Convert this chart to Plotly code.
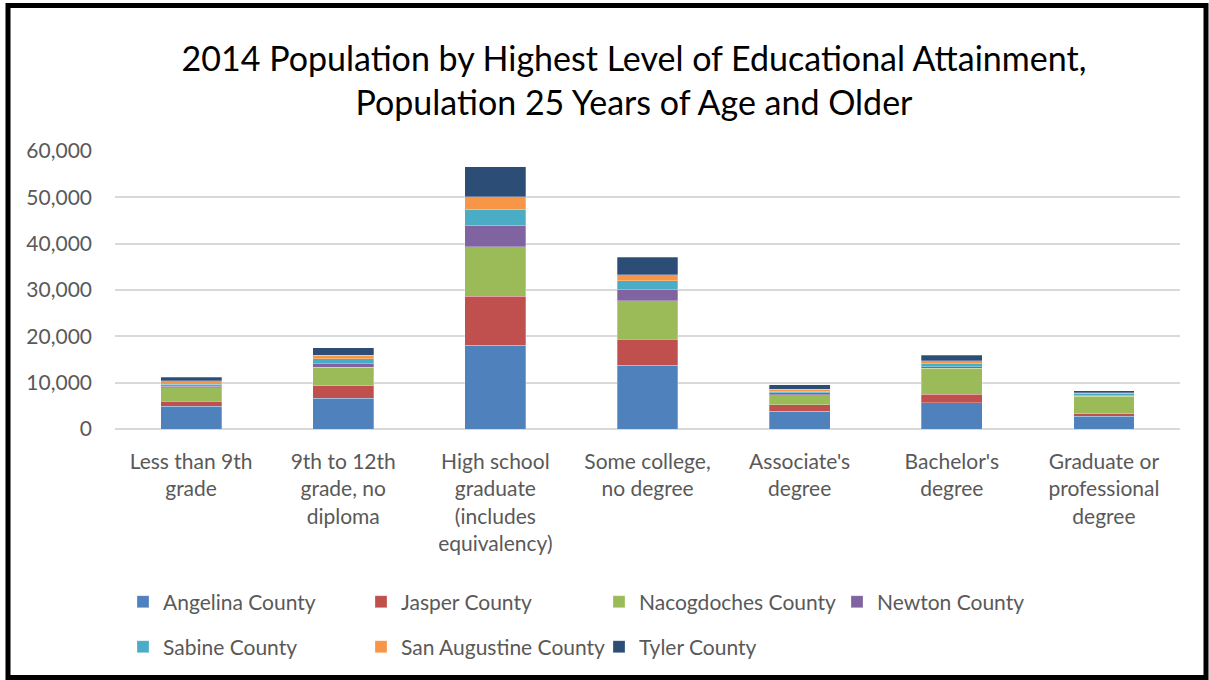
import plotly.graph_objects as go

# Education attainment categories (x axis)
categories = [
    "Less than 9th<br>grade",
    "9th to 12th<br>grade, no<br>diploma",
    "High school<br>graduate<br>(includes<br>equivalency)",
    "Some college,<br>no degree",
    "Associate's<br>degree",
    "Bachelor's<br>degree",
    "Graduate or<br>professional<br>degree",
]

# Population 25+ by county, one list per county
angelina = [4960, 6630, 18060, 13760, 3820, 5680, 2740]
jasper = [1080, 2720, 10580, 5610, 1430, 1810, 560]
nacogdoches = [2860, 3970, 10730, 8340, 2090, 5620, 3760]
newton = [380, 780, 4600, 2380, 500, 350, 220]
sabine = [420, 1010, 3460, 1940, 300, 640, 280]
san_augustine = [730, 790, 2740, 1230, 430, 590, 220]
tyler = [790, 1650, 6480, 3820, 1000, 1230, 490]

y_ticks = [0, 10000, 20000, 30000, 40000, 50000, 60000]

series = [
    ("Angelina County", angelina, "#4F81BD", "legend"),
    ("Jasper County", jasper, "#C0504D", "legend"),
    ("Nacogdoches County", nacogdoches, "#9BBB59", "legend"),
    ("Newton County", newton, "#8064A2", "legend"),
    ("Sabine County", sabine, "#4BACC6", "legend2"),
    ("San Augustine County", san_augustine, "#F79646", "legend2"),
    ("Tyler County", tyler, "#2C4D75", "legend2"),
]

W, H = 1209, 680
ML, MR, MT, MB = 115, 29, 151, 251
plot_w = W - ML - MR
plot_h = H - MT - MB

fig = go.Figure()
for name, vals, color, leg in series:
    fig.add_trace(go.Bar(
        x=categories, y=vals, name=name,
        marker=dict(color=color, line=dict(color="rgba(255,255,255,0.35)", width=0.8)),
        legend=leg,
    ))

FONT = "Lato, 'Open Sans', sans-serif"
GRAY = "#595959"

def px_to_paper_x(px):
    return (px - ML) / plot_w

def px_to_paper_y(py):
    return (H - MB - py) / plot_h

legend_common = dict(
    orientation="h",
    font=dict(family=FONT, size=21, color=GRAY),
    entrywidth=193,
    entrywidthmode="pixels",
    xanchor="left",
    yanchor="middle",
    bgcolor="rgba(0,0,0,0)",
    traceorder="normal",
)

fig.update_layout(
    width=W, height=H,
    margin=dict(l=ML, r=MR, t=MT, b=MB),
    paper_bgcolor="white",
    plot_bgcolor="white",
    barmode="stack",
    bargap=0.6,
    title=dict(
        text="2014 Population by Highest Level of Educational Attainment,<br>Population 25 Years of Age and Older",
        font=dict(family=FONT, size=34, color="#000000"),
        x=634 / W, xanchor="center", xref="container",
        y=1 - 71 / H, yanchor="middle", yref="container",
    ),
    font=dict(family=FONT, size=21, color=GRAY),
    xaxis=dict(
        showgrid=False, showline=False, ticks="",
        tickfont=dict(family=FONT, size=21, color=GRAY),
        tickangle=0,
        ticklabelstandoff=18,
    ),
    yaxis=dict(
        range=[0, 60000], tickvals=y_ticks, tickformat=",",
        showgrid=True, gridcolor="#D9D9D9", gridwidth=1.5,
        zeroline=True, zerolinecolor="#D9D9D9", zerolinewidth=1.5,
        showline=False, ticks="",
        ticklabelstandoff=22,
        tickfont=dict(family=FONT, size=21, color=GRAY),
    ),
    showlegend=True,
    legend=dict(x=px_to_paper_x(123), y=px_to_paper_y(602), **legend_common),
    legend2=dict(x=px_to_paper_x(123), y=px_to_paper_y(647), **legend_common),
)

# Black frame around the whole chart
fig.add_shape(
    type="rect", xref="paper", yref="paper",
    x0=px_to_paper_x(8), x1=px_to_paper_x(1206),
    y0=px_to_paper_y(677.5), y1=px_to_paper_y(5.5),
    line=dict(color="black", width=5), fillcolor="rgba(0,0,0,0)",
    layer="above",
)

fig.write_html("out.html")
